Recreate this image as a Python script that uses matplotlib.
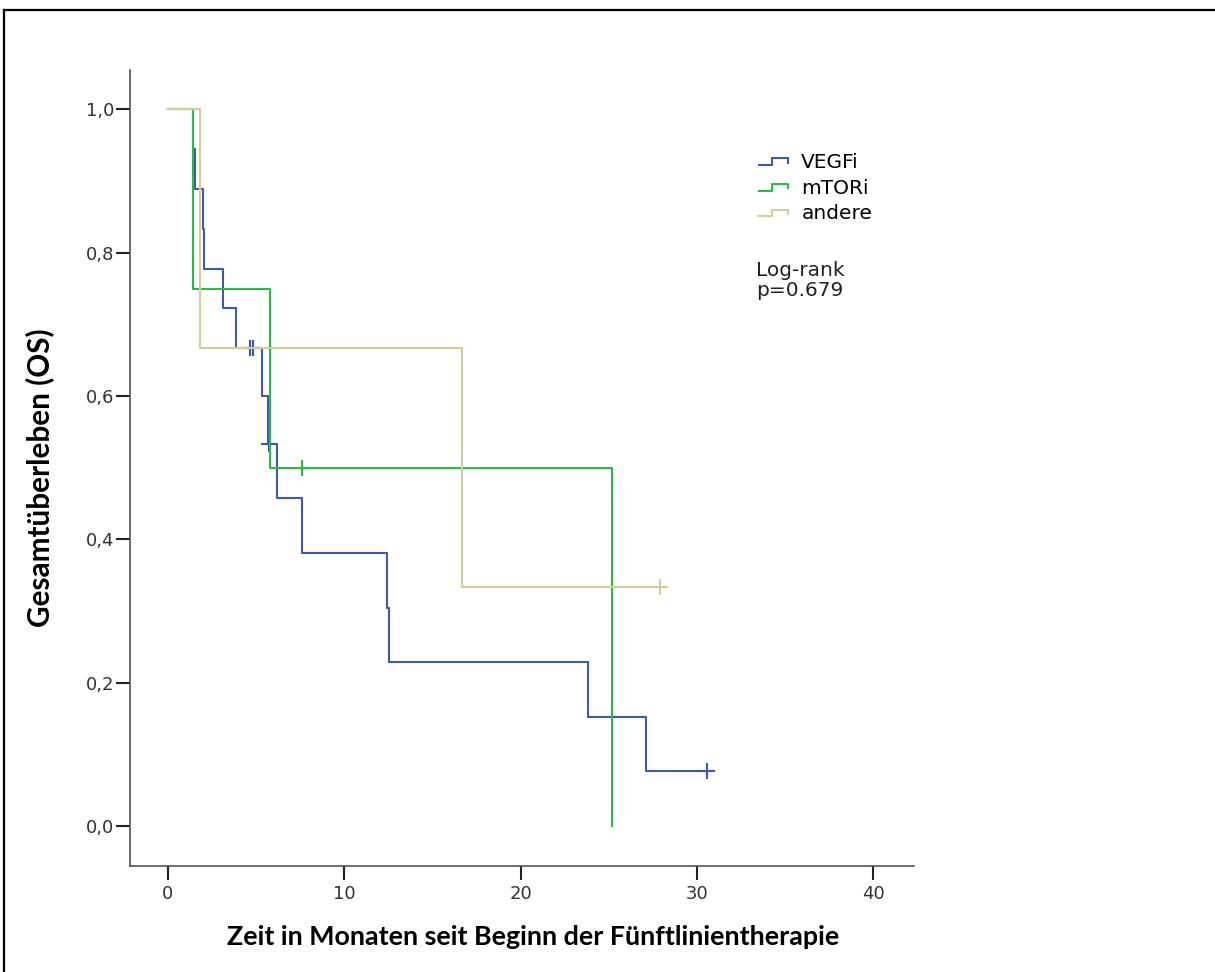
import numpy as np
import matplotlib
matplotlib.use("Agg")
import matplotlib.pyplot as plt
from matplotlib.lines import Line2D
from matplotlib.legend_handler import HandlerBase
from matplotlib.ticker import FuncFormatter

# survival times (months) and event flag (1 = death, 0 = censored)
vegfi_t = [1.42, 1.52, 2.0, 2.05, 3.1, 3.85, 4.65, 4.8, 5.35, 5.65, 5.75,
           6.2, 7.6, 12.4, 12.55, 23.8, 27.1, 30.55]
vegfi_e = [1, 1, 1, 1, 1, 1, 0, 0, 1, 1, 0, 1, 1, 1, 1, 1, 1, 0]
mtori_t = [1.42, 5.8, 7.6, 25.17]
mtori_e = [1, 1, 0, 1]
andere_t = [1.83, 16.67, 27.9]
andere_e = [1, 1, 0]

groups = ["VEGFi", "mTORi", "andere"]
colors = ["#3e58ac", "#2eb848", "#d3ce97"]

x_ticks = [0, 10, 20, 30, 40]
y_ticks = [0.0, 0.2, 0.4, 0.6, 0.8, 1.0]


def km(times, events):
    times = np.asarray(times, float)
    events = np.asarray(events, int)
    order = np.argsort(times, kind="stable")
    times, events = times[order], events[order]
    n = len(times)
    s = 1.0
    xs, ys = [0.0], [1.0]
    cx, cy = [], []
    for i, (t, e) in enumerate(zip(times, events)):
        at_risk = n - i
        if e:
            s = s * (at_risk - 1) / at_risk
            xs.append(t)
            ys.append(s)
        else:
            cx.append(t)
            cy.append(s)
    xs.append(times[-1])
    ys.append(s)
    return xs, ys, cx, cy


class StepHandler(HandlerBase):
    def create_artists(self, legend, orig, xd, yd, w, h, fontsize, trans):
        xs = np.array([0.0, 0.42, 0.42, 0.97, 0.97]) * w - xd
        ys = np.array([0.2, 0.2, 0.68, 0.68, 0.38]) * h - yd
        ln = Line2D(xs, ys, color=orig.get_color(), lw=orig.get_linewidth())
        ln.set_transform(trans)
        return [ln]


fig = plt.figure(figsize=(12.15, 9.72), dpi=100)
ax = fig.add_axes([129.5 / 1215, 1 - 866 / 972, (913.5 - 129.5) / 1215, (866 - 70) / 972])

data = [(vegfi_t, vegfi_e), (mtori_t, mtori_e), (andere_t, andere_e)]
handles = []
for k, ((t, e), name, c) in enumerate(zip(data, groups, colors)):
    xs, ys, cx, cy = km(t, e)
    ln, = ax.step(xs, ys, where="post", color=c, lw=1.5, zorder=2 + k, label=name)
    ax.plot(cx, cy, ls="none", marker="+", ms=11, mew=1.5, color=c, zorder=2 + k)
    handles.append(ln)

ax.set_xlim(-2.18, 42.27)
ax.set_ylim(-0.056, 1.055)
ax.set_xticks(x_ticks)
ax.set_yticks(y_ticks)
ax.yaxis.set_major_formatter(FuncFormatter(lambda v, p: ("%.1f" % v).replace(".", ",")))
for sp in ["top", "right"]:
    ax.spines[sp].set_visible(False)
for sp in ["left", "bottom"]:
    ax.spines[sp].set_color("#555555")
    ax.spines[sp].set_linewidth(1.2)
ax.tick_params(axis="both", direction="out", length=10, width=1.5, color="#222222",
               labelsize=13, labelcolor="#333333")
ax.tick_params(axis="y", pad=1)
ax.tick_params(axis="x", pad=4)

leg = fig.legend(handles=handles, labels=groups, loc="upper left",
                 bbox_to_anchor=(759 / 1215, 1 - 153 / 972), frameon=False,
                 fontsize=14.5, handlelength=1.5, handletextpad=0.6,
                 labelspacing=0.33, borderpad=0, borderaxespad=0,
                 handler_map={Line2D: StepHandler()})

fig.text(756 / 1215, 1 - 261 / 972, "Log-rank\np=0.679", fontsize=14.5,
         va="top", ha="left", color="#222222", linespacing=1.05)

lab_font = ["Lato", "DejaVu Sans"]
xl = fig.text(533 / 1215, 1 - 937 / 972, "Zeit in Monaten seit Beginn der Fünftlinientherapie",
              family=lab_font, fontweight="bold", fontsize=18, ha="center", va="center")
yl = fig.text(40 / 1215, 1 - 478 / 972, "Gesamtüberleben (OS)", family=lab_font,
              fontweight="bold", fontsize=18, ha="center", va="center", rotation=90)

# fit the label sizes to the lengths seen in the reference (px)
r = fig.canvas.get_renderer()
w = xl.get_window_extent(r).width
xl.set_fontsize(18 * 616 / w)
h = yl.get_window_extent(r).height
yl.set_fontsize(18 * 298 / h)

# frame lines around the picture
fig.add_artist(Line2D([3.5 / 1215, 1], [1 - 10.5 / 972] * 2, color="black", lw=1.6))
fig.add_artist(Line2D([3.5 / 1215] * 2, [0, 1 - 10.5 / 972], color="black", lw=1.6))

fig.savefig("out.png", dpi=100)
